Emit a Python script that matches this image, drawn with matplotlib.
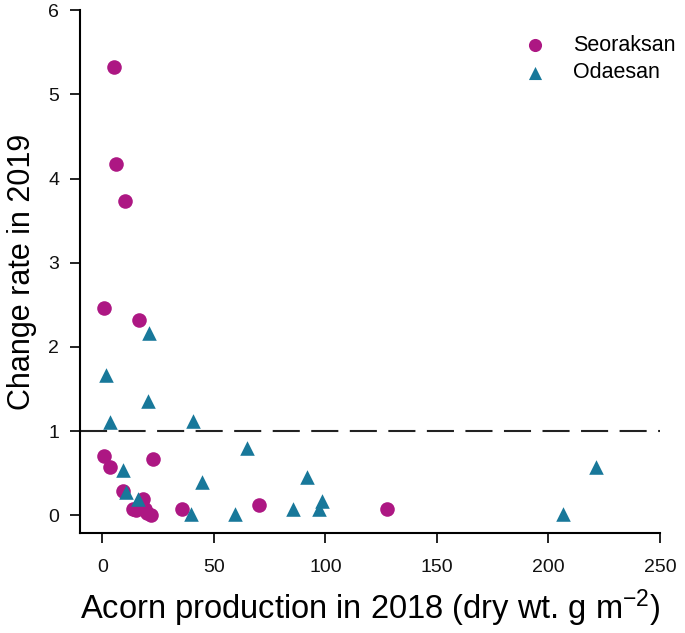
import matplotlib
matplotlib.use("Agg")
import matplotlib.pyplot as plt

plt.rcParams['font.family'] = ['Liberation Sans', 'DejaVu Sans']
plt.rcParams['mathtext.default'] = 'regular'

# Seoraksan (circles)
seo_x = [5.1, 6.0, 10.0, 0.6, 16.3, 0.7, 3.6, 22.9, 9.3, 18.2, 13.7, 19.0, 22.0, 20.0,
         15.3, 35.6, 70.3, 127.8]
seo_y = [5.32, 4.17, 3.73, 2.46, 2.32, 0.70, 0.57, 0.67, 0.29, 0.19, 0.075, 0.07, 0.0, 0.03,
         0.06, 0.07, 0.12, 0.07]

# Odaesan (triangles)
oda_x = [20.8, 1.8, 20.3, 3.3, 40.5, 64.7, 9.3, 44.9, 10.8, 16.0, 39.8, 59.3, 85.3,
         91.9, 98.3, 97.1, 206.4, 221.5]
oda_y = [2.17, 1.67, 1.36, 1.11, 1.12, 0.80, 0.54, 0.39, 0.28, 0.19, 0.01, 0.02, 0.07,
         0.45, 0.17, 0.07, 0.01, 0.57]

fig = plt.figure(figsize=(6.85, 6.33), dpi=100)
ax = fig.add_axes([0.1168, 0.158, 0.8467, 0.826])

ax.axhline(1, color='#222222', lw=1.5, dashes=(13, 5.5), zorder=1)
ax.scatter(seo_x, seo_y, s=110, marker='o', color='#AD1783', label='Seoraksan', zorder=2, linewidths=0)
ax.scatter(oda_x, oda_y, s=110, marker='^', color='#18789A', label='Odaesan', zorder=3, linewidths=0)

ax.set_xlim(-10, 250)
ax.set_ylim(-0.21, 6)
ax.set_xticks([0, 50, 100, 150, 200, 250])
ax.set_yticks([0, 1, 2, 3, 4, 5, 6])
ax.spines['top'].set_visible(False)
ax.spines['right'].set_visible(False)
ax.spines['left'].set_linewidth(1.5)
ax.spines['bottom'].set_linewidth(1.5)
ax.tick_params(direction='out', length=7, width=1.3, labelsize=14, colors='#111111', pad=8)
ax.tick_params(axis='x', pad=12)

ax.set_xlabel('Acorn production in 2018 (dry wt. g m$^{-2}$)', fontsize=23.5, labelpad=8)
ax.set_ylabel('Change rate in 2019', fontsize=22, labelpad=8)

ax.legend(loc='upper left', bbox_to_anchor=(0.732, 0.969), frameon=False, fontsize=15.5,
          handletextpad=0.8, labelspacing=0.3, markerscale=0.9, borderaxespad=0)

fig.savefig('out.png', dpi=100)
